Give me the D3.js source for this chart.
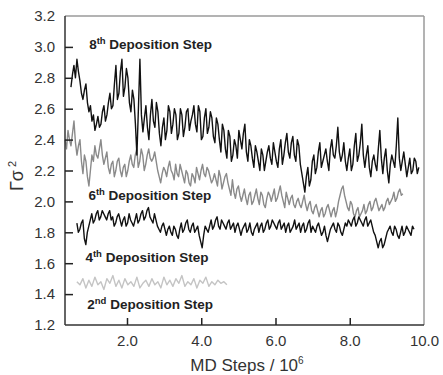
<!DOCTYPE html>
<html>
<head>
<meta charset="utf-8">
<script src="https://cdn.jsdelivr.net/npm/d3@7"></script>
<style>
  html, body { margin: 0; padding: 0; background: #fff; }
  svg { display: block; }
  text { font-family: "Liberation Sans", Arial, sans-serif; }
</style>
</head>
<body>
<svg id="chart" width="443" height="375"></svg>
<script>
// ---- data ----
const xTicks = [2, 4, 6, 8, 10];
const yTicks = [1.2, 1.4, 1.6, 1.8, 2.0, 2.2, 2.4, 2.6, 2.8, 3.0, 3.2];

const step8Range = [0.49, 9.86];
const step8 = [2.74,2.82,2.88,2.80,2.92,2.84,2.78,2.70,2.66,2.72,2.76,2.64,2.58,2.62,2.52,2.56,2.46,2.50,2.55,
  2.48,2.50,2.58,2.62,2.52,2.56,2.64,2.70,2.60,2.62,2.76,2.88,2.66,2.70,2.84,2.92,2.68,2.74,2.86,2.80,
  2.64,2.58,2.72,2.66,2.50,2.30,2.60,2.92,2.56,2.45,2.54,2.62,2.48,2.40,2.56,2.66,2.52,2.48,2.64,2.58,
  2.44,2.36,2.48,2.54,2.40,2.46,2.62,2.58,2.44,2.50,2.60,2.56,2.40,2.44,2.60,2.56,2.42,2.48,2.58,2.60,
  2.46,2.52,2.56,2.62,2.50,2.45,2.62,2.58,2.40,2.42,2.54,2.60,2.44,2.48,2.58,2.54,2.42,2.38,2.54,2.50,
  2.40,2.32,2.50,2.46,2.34,2.28,2.46,2.42,2.26,2.30,2.40,2.36,2.28,2.46,2.40,2.34,2.44,2.50,2.32,2.26,
  2.40,2.36,2.28,2.22,2.36,2.32,2.26,2.20,2.34,2.30,2.20,2.26,2.32,2.36,2.28,2.24,2.38,2.32,2.26,2.22,
  2.34,2.40,2.24,2.30,2.38,2.44,2.32,2.28,2.38,2.42,2.30,2.26,2.40,2.36,2.24,2.18,2.12,2.06,2.16,2.22,
  2.10,2.14,2.26,2.30,2.18,2.22,2.32,2.38,2.22,2.26,2.30,2.34,2.26,2.20,2.34,2.40,2.30,2.28,2.36,2.48,
  2.32,2.26,2.30,2.38,2.26,2.20,2.28,2.34,2.20,2.24,2.36,2.44,2.26,2.30,2.38,2.50,2.30,2.22,2.30,2.36,
  2.22,2.16,2.26,2.30,2.24,2.20,2.34,2.46,2.28,2.18,2.28,2.34,2.20,2.12,2.24,2.30,2.26,2.22,2.36,2.54,
  2.28,2.20,2.26,2.32,2.24,2.16,2.22,2.28,2.18,2.20,2.28,2.26,2.18,2.22];

const step6Range = [0.33, 9.43];
const step6 = [2.40,2.34,2.46,2.40,2.36,2.44,2.52,2.38,2.30,2.36,2.40,2.26,2.18,2.30,2.26,2.16,2.10,2.20,2.30,
  2.26,2.36,2.30,2.28,2.34,2.40,2.30,2.24,2.28,2.32,2.22,2.18,2.24,2.26,2.16,2.20,2.26,2.28,2.20,2.16,
  2.22,2.24,2.16,2.20,2.26,2.30,2.24,2.22,2.30,2.34,2.22,2.26,2.34,2.30,2.20,2.24,2.30,2.34,2.28,2.26,
  2.28,2.32,2.26,2.20,2.16,2.12,2.18,2.22,2.20,2.16,2.22,2.26,2.20,2.18,2.14,2.24,2.18,2.16,2.24,2.20,
  2.16,2.12,2.20,2.18,2.12,2.10,2.18,2.16,2.12,2.22,2.18,2.14,2.20,2.24,2.18,2.16,2.22,2.20,2.16,2.12,
  2.14,2.18,2.14,2.10,2.20,2.16,2.08,2.12,2.16,2.18,2.12,2.08,2.04,2.14,2.06,2.02,2.08,2.10,2.04,2.00,
  2.04,2.08,2.02,1.98,2.04,2.06,1.98,2.00,2.04,2.08,2.02,1.98,2.06,2.04,1.98,1.96,2.02,2.06,2.04,2.00,
  2.04,2.08,2.00,2.02,2.06,2.10,2.04,2.00,1.96,2.06,2.02,1.98,2.02,2.04,1.98,1.96,2.00,2.02,1.98,1.96,
  2.00,2.04,1.98,1.94,1.98,2.00,1.94,1.92,1.96,1.98,1.94,1.90,1.94,1.96,1.90,1.92,1.96,1.98,1.94,1.90,
  1.94,1.96,1.90,1.94,2.00,2.04,2.08,2.10,2.04,2.00,1.96,1.94,2.00,1.98,1.92,1.90,1.94,1.96,1.90,1.92,
  1.94,1.98,1.92,1.94,1.98,2.00,1.94,1.96,2.00,2.02,1.98,1.94,1.96,1.98,1.94,1.96,2.00,2.02,1.98,2.00,
  2.02,2.06,2.00,2.02,2.06,2.08,2.04,2.05];

const step4Range = [0.65, 9.73];
const step4 = [1.86,1.80,1.82,1.86,1.88,1.76,1.72,1.80,1.84,1.88,1.92,1.86,1.88,1.92,1.94,1.88,1.90,1.94,1.92,
  1.90,1.88,1.92,1.94,1.88,1.90,1.84,1.86,1.90,1.92,1.88,1.84,1.88,1.90,1.84,1.86,1.92,1.88,1.86,1.84,
  1.88,1.92,1.86,1.88,1.92,1.94,1.88,1.90,1.94,1.96,1.90,1.88,1.86,1.92,1.88,1.84,1.82,1.80,1.84,1.86,
  1.82,1.78,1.82,1.84,1.80,1.78,1.84,1.82,1.78,1.76,1.82,1.86,1.80,1.82,1.86,1.88,1.82,1.80,1.84,1.86,
  1.80,1.82,1.84,1.78,1.74,1.70,1.78,1.84,1.82,1.80,1.84,1.88,1.82,1.84,1.88,1.90,1.84,1.82,1.88,1.86,
  1.84,1.82,1.86,1.88,1.82,1.84,1.86,1.80,1.84,1.86,1.82,1.78,1.82,1.84,1.86,1.80,1.82,1.86,1.80,1.78,
  1.82,1.84,1.86,1.80,1.84,1.86,1.80,1.82,1.86,1.88,1.82,1.84,1.88,1.86,1.84,1.82,1.86,1.88,1.82,1.84,
  1.86,1.80,1.84,1.86,1.80,1.82,1.84,1.88,1.82,1.84,1.86,1.80,1.84,1.86,1.80,1.82,1.86,1.88,1.80,1.84,
  1.82,1.80,1.84,1.86,1.82,1.78,1.80,1.84,1.78,1.74,1.78,1.82,1.84,1.86,1.82,1.80,1.86,1.84,1.80,1.78,
  1.82,1.86,1.84,1.88,1.86,1.84,1.88,1.90,1.84,1.86,1.90,1.88,1.86,1.84,1.88,1.90,1.84,1.86,1.88,1.84,
  1.80,1.78,1.74,1.70,1.74,1.76,1.70,1.72,1.76,1.80,1.82,1.84,1.80,1.78,1.84,1.82,1.78,1.76,1.80,1.84,
  1.78,1.80,1.84,1.82,1.80,1.78,1.84,1.82];

const step2Range = [0.65, 4.69];
const step2 = [1.48,1.46,1.50,1.44,1.49,1.45,1.51,1.46,1.48,1.43,
  1.50,1.47,1.52,1.45,1.49,1.44,1.50,1.46,1.48,1.45,
  1.51,1.44,1.47,1.49,1.45,1.50,1.46,1.48,1.44,1.51,
  1.46,1.49,1.45,1.50,1.47,1.52,1.45,1.48,1.46,1.50,
  1.44,1.49,1.47,1.51,1.45,1.48,1.46,1.49,1.47,1.48,1.46];

const seriesList = [
  { name: "2nd", values: step2, range: step2Range, color: "#c4c4c4" },
  { name: "6th", values: step6, range: step6Range, color: "#8a8a8a" },
  { name: "4th", values: step4, range: step4Range, color: "#111111" },
  { name: "8th", values: step8, range: step8Range, color: "#111111" }
];

const annotations = [
  { num: "8", sup: "th", x: 0.98, y: 2.985 },
  { num: "6", sup: "th", x: 0.96, y: 2.010 },
  { num: "4", sup: "th", x: 0.88, y: 1.610 },
  { num: "2", sup: "nd", x: 0.93, y: 1.305 }
];

// ---- drawing ----
const svg = d3.select("#chart");
const L = 65, R = 424, T = 16, B = 325;
const x = d3.scaleLinear().domain([0.33, 10.0]).range([L, R]);
const y = d3.scaleLinear().domain([1.2, 3.2]).range([B, T]);

const line = d3.line().x(d => x(d[0])).y(d => y(d[1]));

seriesList.forEach(s => {
  const n = s.values.length;
  const pts = s.values.map((v, i) => [s.range[0] + i * (s.range[1] - s.range[0]) / (n - 1), v]);
  svg.append("path")
    .datum(pts)
    .attr("d", line)
    .attr("fill", "none")
    .attr("stroke", s.color)
    .attr("stroke-width", 1.4)
    .attr("stroke-linejoin", "round");
});

// frame
svg.append("line").attr("x1", L).attr("x2", R).attr("y1", T).attr("y2", T)
  .attr("stroke", "#9a9a9a").attr("stroke-width", 1.5);
svg.append("line").attr("x1", R).attr("x2", R).attr("y1", T).attr("y2", B)
  .attr("stroke", "#9a9a9a").attr("stroke-width", 1.5);
svg.append("line").attr("x1", L).attr("x2", L).attr("y1", T).attr("y2", B)
  .attr("stroke", "#333").attr("stroke-width", 1.5);
svg.append("line").attr("x1", L).attr("x2", R).attr("y1", B).attr("y2", B)
  .attr("stroke", "#333").attr("stroke-width", 1.5);

// axes
const yAxis = d3.axisLeft(y).tickValues(yTicks).tickFormat(d3.format(".1f"))
  .tickSizeInner(-8).tickSizeOuter(0).tickPadding(10);
const gy = svg.append("g").attr("transform", `translate(${L},0)`).call(yAxis);
gy.select(".domain").remove();
gy.selectAll("line").attr("stroke", "#222").attr("stroke-width", 1.5);
gy.selectAll(".tick").filter(d => d === 1.2 || d === 3.2).select("line").remove();
gy.selectAll("text").attr("font-size", 15).attr("fill", "#333")
  .attr("font-family", "Liberation Sans, Arial, sans-serif");

const xAxis = d3.axisBottom(x).tickValues(xTicks).tickFormat(d3.format(".1f"))
  .tickSizeInner(-7).tickSizeOuter(0).tickPadding(10);
const gx = svg.append("g").attr("transform", `translate(0,${B})`).call(xAxis);
gx.select(".domain").remove();
gx.selectAll("line").attr("stroke", "#222").attr("stroke-width", 1.5);
gx.selectAll(".tick").filter(d => d === 10).select("line").remove();
gx.selectAll("text").attr("font-size", 15).attr("fill", "#333")
  .attr("font-family", "Liberation Sans, Arial, sans-serif");

// axis titles
const xt = svg.append("text").attr("x", 247).attr("y", 371)
  .attr("text-anchor", "middle").attr("font-size", 17).attr("fill", "#333");
xt.append("tspan").text("MD Steps / 10");
xt.append("tspan").attr("dy", -7).attr("font-size", 10).text("6");

const yt = svg.append("text")
  .attr("transform", "translate(23,176) rotate(-90)")
  .attr("text-anchor", "middle").attr("font-size", 18).attr("fill", "#333");
yt.append("tspan").text("Γσ");
yt.append("tspan").attr("dx", 3).attr("dy", -7).attr("font-size", 11).text("2");

// annotations
annotations.forEach(a => {
  const t = svg.append("text").attr("x", x(a.x)).attr("y", y(a.y))
    .attr("font-size", 13.5).attr("font-weight", "bold").attr("fill", "#222");
  t.append("tspan").text(a.num);
  t.append("tspan").attr("dy", -5).attr("font-size", 9.5).text(a.sup);
  t.append("tspan").attr("dy", 5).text(" Deposition Step");
});
</script>
</body>
</html>
